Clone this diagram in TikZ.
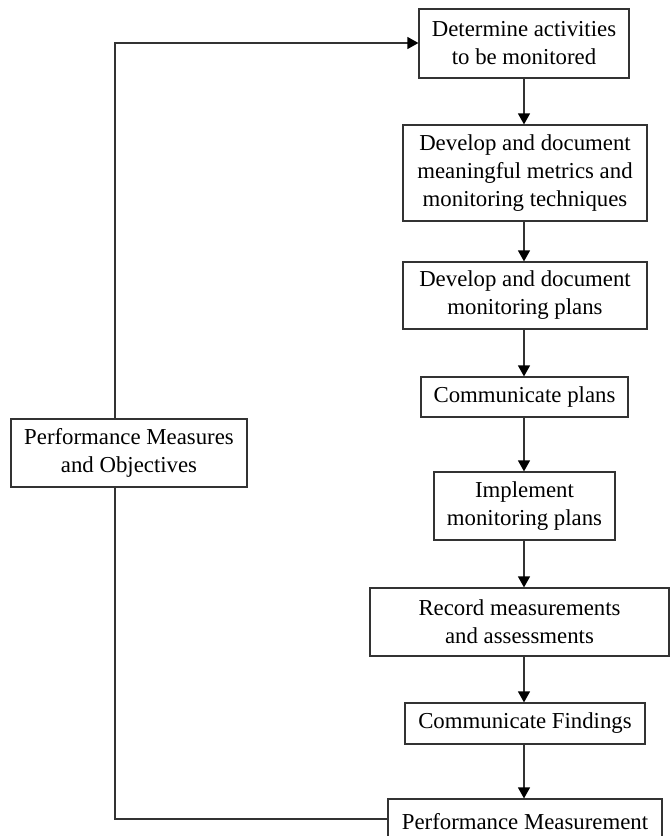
\documentclass[tikz,border=0pt]{standalone}
\usepackage{fontspec}
\setmainfont{Liberation Serif}
\usetikzlibrary{arrows.meta}
\begin{document}
\begin{tikzpicture}[x=1pt,y=-1pt,
  box/.style={draw=black!80, line width=1.2pt, inner sep=0pt, align=center,
    font=\fontsize{22.8}{28}\selectfont},
  link/.style={draw=black!80, line width=1.2pt},
  flow/.style={link, -{Triangle[length=11pt,width=12pt,fill=black,color=black]}}]
\useasboundingbox (0,0) rectangle (670,836);
\clip (0,0) rectangle (670,836);

% main column of steps
\node[box, minimum width=210, minimum height=69] (b1) at (524,43.5)
  {Determine activities\\to be monitored};
\node[box, minimum width=244, minimum height=96] (b2) at (525,173)
  {Develop and document\\meaningful metrics and\\monitoring techniques};
\node[box, minimum width=244, minimum height=67] (b3) at (525,295.5)
  {Develop and document\\monitoring plans};
\node[box, minimum width=207, minimum height=40] (b4) at (524.5,397)
  {Communicate plans};
\node[box, minimum width=181, minimum height=68] (b5) at (524.5,506)
  {Implement\\monitoring plans};
\node[box, minimum width=299, minimum height=68] (b6) at (519.5,622)
  {Record measurements\\and assessments};
\node[box, minimum width=240, minimum height=41] (b7) at (525,723.5)
  {Communicate Findings};
\node[box, minimum width=274, minimum height=46] (b8) at (525,822)
  {Performance Measurement};

% feedback box on the left
\node[box, minimum width=236, minimum height=68] (pm) at (129,453)
  {Performance Measures\\and Objectives};

% corners of the feedback loop
\coordinate (tl) at (115,43);
\coordinate (bl) at (115,819);

% downward flow
\draw[flow] (b1.south -| 524,0) -- (b2.north -| 524,0);
\draw[flow] (b2.south -| 524,0) -- (b3.north -| 524,0);
\draw[flow] (b3.south -| 524,0) -- (b4.north -| 524,0);
\draw[flow] (b4.south -| 524,0) -- (b5.north -| 524,0);
\draw[flow] (b5.south -| 524,0) -- (b6.north -| 524,0);
\draw[flow] (b6.south -| 524,0) -- (b7.north -| 524,0);
\draw[flow] (b7.south -| 524,0) -- (b8.north -| 524,0);

% feedback loop
\draw[link] (bl -| b8.west) -- (bl) -- (pm.south -| bl);
\draw[flow] (pm.north -| tl) -- (tl) -- (tl -| b1.west);
\end{tikzpicture}
\end{document}
